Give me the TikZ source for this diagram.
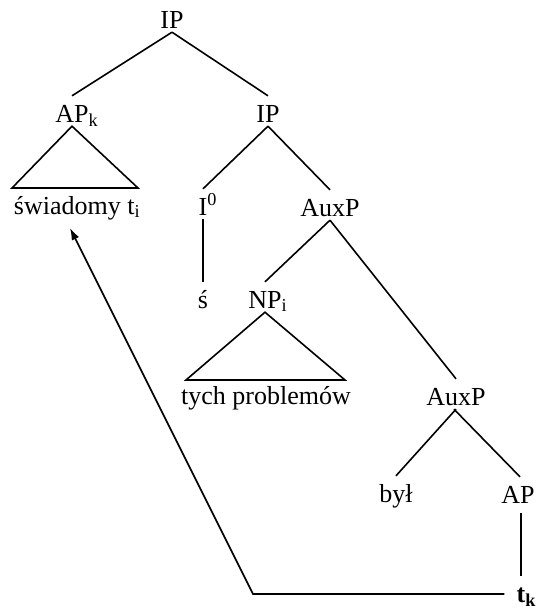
\documentclass[tikz,border=0pt]{standalone}
\usepackage{fontspec}
\setmainfont{Liberation Serif}
\usetikzlibrary{arrows.meta}
\begin{document}
\begin{tikzpicture}[x=1pt,y=1pt,
  lbl/.style={inner sep=0pt, text height=26pt, text depth=4pt, anchor=base, font=\fontsize{26}{30}\selectfont},
  edge/.style={line width=1.6pt},
]
\useasboundingbox (0,0) rectangle (536,-611);
% nodes
\node[lbl] (IP1) at (172,-28) {IP};
\node[lbl] (APk) at (72,-122) {AP\rlap{\textsubscript{k}}};
\node[lbl] (IP2) at (268,-122) {IP};
\node[lbl] (swiadomy) at (77,-214) {świadomy t\textsubscript{i}};
\node[lbl] (I0) at (203,-215) {I\rlap{\textsuperscript{0}}};
\node[lbl] (AuxP1) at (330,-216) {AuxP};
\node[lbl] (s) at (203,-308) {ś};
\node[lbl] (NPi) at (265,-308) {NP\rlap{\textsubscript{i}}};
\node[lbl] (tych) at (266,-404) {tych problemów};
\node[lbl] (AuxP2) at (456,-405) {AuxP};
\node[lbl] (byl) at (396,-502) {był};
\node[lbl] (AP) at (518,-503) {AP};
\node[lbl] (tk) at (521,-602) {\textbf{t}\rlap{\textsubscript{\textbf{k}}}};
% branches
\draw[edge] (IP1.south) -- (APk.north);
\draw[edge] (IP1.south) -- (IP2.north);
\draw[edge] (IP2.south) -- (I0.north);
\draw[edge] (IP2.south) -- (AuxP1.north);
\draw[edge] (I0.south) -- (s.north);
\draw[edge] (AuxP1.south) -- (NPi.north);
\draw[edge] (AuxP1.south) -- (AuxP2.north);
\draw[edge] (AuxP2.south) -- (byl.north);
\draw[edge] ([xshift=-2pt]AuxP2.south) -- ([xshift=2pt]AP.north);
\draw[edge] ([yshift=-6pt]tk.north |- AP.south) -- (tk.north);
% triangles
\draw[edge, line join=miter] (APk.south) -- (12,-188) -- (138,-188) -- cycle;
\draw[edge, line join=miter] (NPi.south) -- (186,-380) -- (345,-380) -- cycle;
% movement arrow
\coordinate (bend) at (253,-594);
\coordinate (tip) at (70,-228);
\draw[edge, -{Latex[length=12pt,width=8pt]}] ([xshift=-12pt]bend -| tk.west) -- (bend) -- (tip);
\end{tikzpicture}
\end{document}
